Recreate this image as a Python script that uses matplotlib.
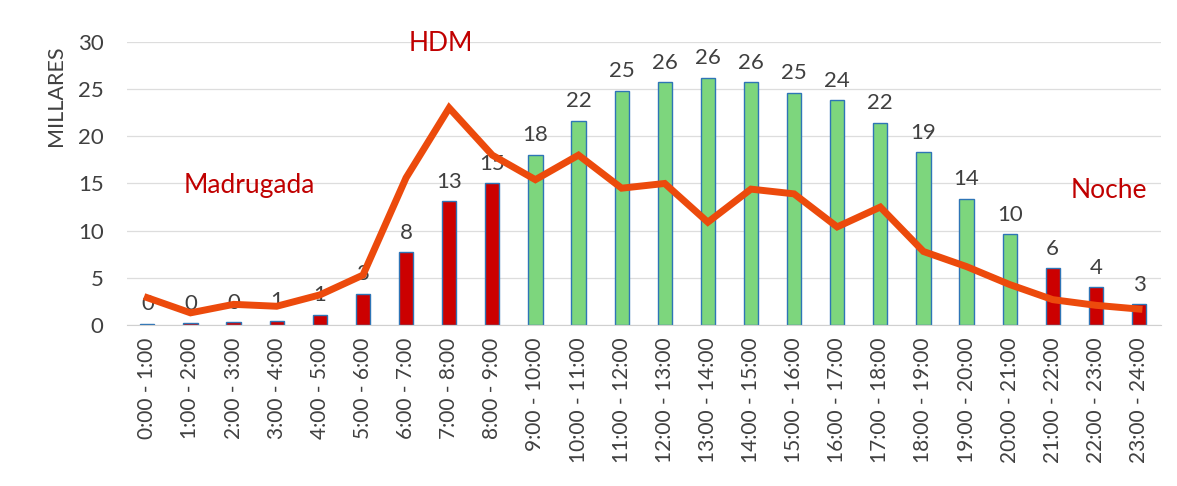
import matplotlib.pyplot as plt
import numpy as np

plt.rcParams["font.family"] = ["Lato", "DejaVu Sans"]

# hourly slots
franjas = [f"{h}:00 - {h + 1}:00" for h in range(24)]

# bars (thousands)
barras = [0.1, 0.2, 0.3, 0.45, 1.1, 3.3, 7.7, 13.1, 15.0, 18.0, 21.6, 24.8,
          25.7, 26.2, 25.7, 24.6, 23.8, 21.4, 18.3, 13.4, 9.6, 6.0, 4.0, 2.2]
etiquetas = ["0", "0", "0", "1", "1", "3", "8", "13", "15", "18", "22", "25",
             "26", "26", "26", "25", "24", "22", "19", "14", "10", "6", "4", "3"]

# orange line
linea = [2.9, 1.3, 2.2, 2.0, 3.2, 5.3, 15.6, 23.0, 18.0, 15.4, 18.0, 14.5,
         15.0, 10.9, 14.4, 13.9, 10.4, 12.5, 7.8, 6.2, 4.3, 2.7, 2.1, 1.7]

# red = madrugada / HDM / noche, green = day
rojos = set(range(0, 9)) | {21, 22, 23}

ROJO = "#CC0000"
VERDE = "#7DD67D"
AZUL = "#2E75B6"
NARANJA = "#EC4A0C"
TEXTO = "#404040"

fig = plt.figure(figsize=(11.77, 4.86), dpi=100)
ax = fig.add_axes([0.108, 0.331, 0.878, 0.583])

x = np.arange(len(franjas))
colores = [ROJO if i in rojos else VERDE for i in x]
ax.bar(x, barras, width=0.33, color=colores, edgecolor=AZUL, linewidth=1.0,
       zorder=2)

for i in x:
    ax.annotate(etiquetas[i], (i, barras[i]), xytext=(0, 7),
                textcoords="offset points", ha="center", va="bottom",
                fontsize=16, color=TEXTO, zorder=3)

ax.plot(x, linea, color=NARANJA, lw=5, solid_joinstyle="miter", zorder=4)

ax.text(6.8, 29.8, "HDM", color="#C00000", fontsize=19, ha="center",
        va="center")
ax.text(2.37, 14.8, "Madrugada", color="#C00000", fontsize=19, ha="center",
        va="center")
ax.text(22.3, 14.3, "Noche", color="#C00000", fontsize=19, ha="center",
        va="center")

ax.set_xlim(-0.47, 23.5)
ax.set_ylim(0, 30)
ax.set_yticks(range(0, 31, 5))
ax.set_xticks(x)
ax.set_xticklabels(franjas, rotation=90, fontsize=15, color=TEXTO)
ax.tick_params(axis="y", labelsize=16, labelcolor=TEXTO, length=0, pad=17)
ax.tick_params(axis="x", length=0, pad=9)
ax.set_ylabel("MILLARES", fontsize=15.5, color=TEXTO)
ax.yaxis.set_label_coords(-0.059, 0.81)

ax.grid(axis="y", color="#DDDDDD", lw=0.9, zorder=0)
ax.set_axisbelow(True)
for s in ["top", "right", "left"]:
    ax.spines[s].set_visible(False)
ax.spines["bottom"].set_color("#D0D0D0")

fig.savefig("out.png", dpi=100)
